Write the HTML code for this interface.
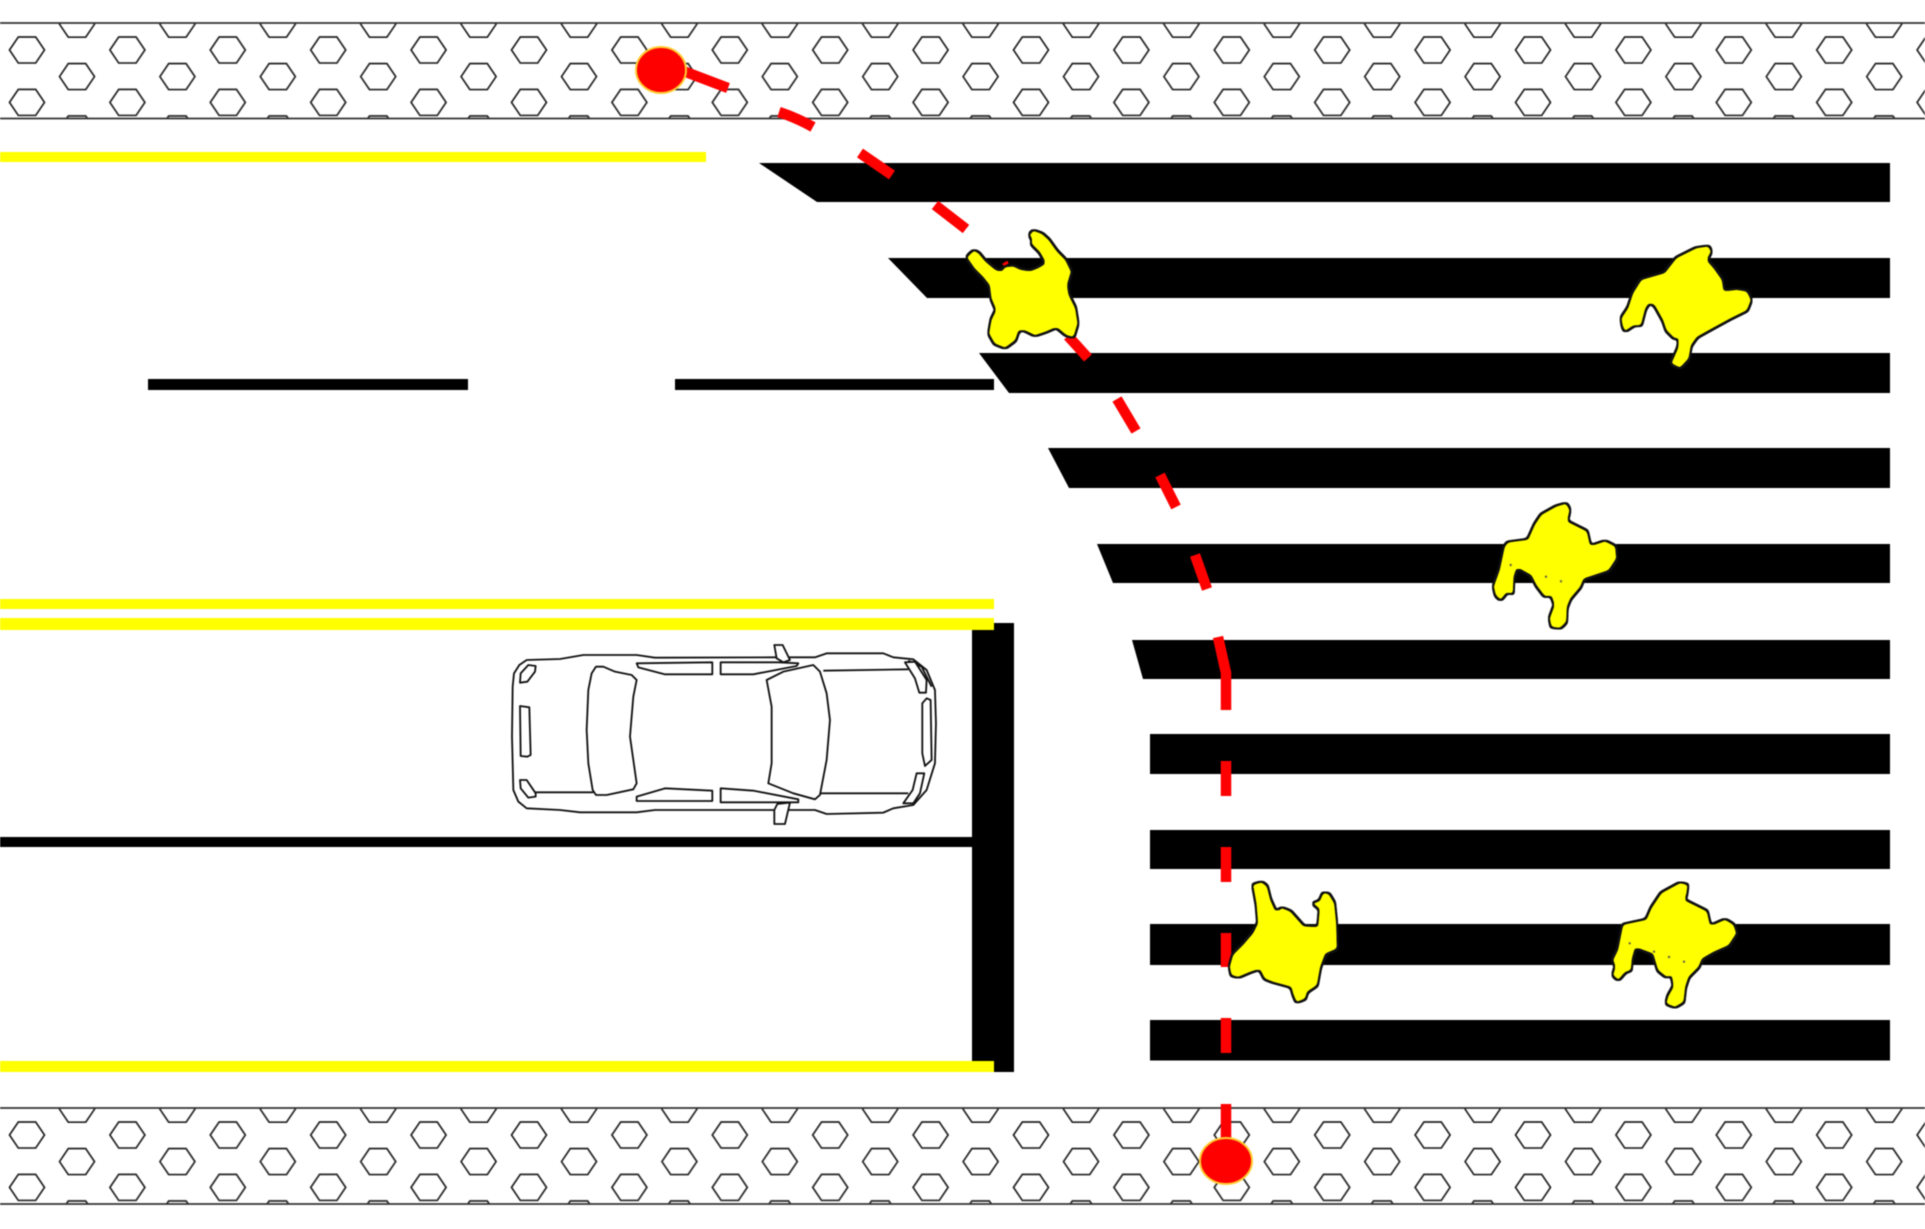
<!DOCTYPE html>
<html><head><meta charset="utf-8"><title>Crosswalk diagram</title>
<style>html,body{margin:0;padding:0;background:#fff}svg{display:block;filter:blur(.4px)}</style></head>
<body>
<svg xmlns="http://www.w3.org/2000/svg" width="1925" height="1229" viewBox="0 0 1925 1229">
<defs>
<g id="hex"><polygon points="-17.5,0 -8.7,-13 8.7,-13 17.5,0 8.7,13 -8.7,13" fill="none" stroke="#222" stroke-width="1.7"/></g>
<pattern id="pt" patternUnits="userSpaceOnUse" width="100.4" height="52.4" patternTransform="translate(0 36.5)">
<use href="#hex" x="27" y="13.5"/><use href="#hex" x="27" y="65.9"/><use href="#hex" x="77" y="40.1"/><use href="#hex" x="77" y="-12.3"/>
</pattern>
<pattern id="pb" patternUnits="userSpaceOnUse" width="100.4" height="52.4" patternTransform="translate(0 1121.5)">
<use href="#hex" x="27" y="13.5"/><use href="#hex" x="27" y="65.9"/><use href="#hex" x="77" y="40.1"/><use href="#hex" x="77" y="-12.3"/>
</pattern>
<filter id="sm" filterUnits="userSpaceOnUse" x="0" y="0" width="1925" height="1229" color-interpolation-filters="sRGB">
<feMorphology in="SourceAlpha" operator="dilate" radius="1" result="f"/>
<feGaussianBlur in="f" stdDeviation="1.6"/>
<feComponentTransfer result="s"><feFuncA type="linear" slope="10" intercept="-4.2"/></feComponentTransfer>
<feMorphology in="s" operator="dilate" radius="1" result="d"/>
<feFlood flood-color="#111"/><feComposite in2="d" operator="in" result="outline"/>
<feMorphology in="s" operator="erode" radius="1" result="e"/>
<feFlood flood-color="#ff0"/><feComposite in2="e" operator="in" result="fill"/>
<feMerge><feMergeNode in="outline"/><feMergeNode in="fill"/></feMerge>
</filter>
</defs>
<rect width="1925" height="1229" fill="#fff"/>

<!-- sidewalks -->
<rect x="0" y="23" width="1925" height="95" fill="url(#pt)"/>
<rect x="0" y="1108" width="1925" height="96" fill="url(#pb)"/>
<g stroke="#333" stroke-width="1.7">
<line x1="0" y1="23" x2="1925" y2="23"/><line x1="0" y1="118.5" x2="1925" y2="118.5"/>
<line x1="0" y1="1108" x2="1925" y2="1108"/><line x1="0" y1="1204" x2="1925" y2="1204"/>
</g>

<!-- zebra stripes -->
<g fill="#000">
<polygon points="759,163 1890,163 1890,202 817,202"/>
<polygon points="888,258 1890,258 1890,298 927,298"/>
<polygon points="979,353 1890,353 1890,393 1009,393"/>
<polygon points="1048,448 1890,448 1890,488 1069,488"/>
<polygon points="1097,544 1890,544 1890,583 1113,583"/>
<polygon points="1132,640 1890,640 1890,679 1143,679"/>
<rect x="1150" y="734" width="740" height="40"/>
<rect x="1150" y="830" width="740" height="39"/>
<rect x="1150" y="924" width="740" height="41"/>
<rect x="1150" y="1020" width="740" height="40.5"/>
<!-- lane markings -->
<rect x="148" y="379" width="320" height="11"/>
<rect x="675" y="379" width="319" height="11"/>
<rect x="972" y="623" width="42" height="449"/>
<rect x="0" y="837" width="972" height="10"/>
</g>

<!-- yellow lines -->
<g fill="#ff0">
<rect x="0" y="152" width="706" height="10"/>
<rect x="0" y="599" width="994" height="10"/>
<rect x="0" y="618" width="994" height="12"/>
<rect x="0" y="1061" width="994" height="11"/>
</g>

<!-- red dashed path -->
<g fill="none" stroke="#f00" stroke-width="10.5">
<line x1="670" y1="66" x2="728" y2="88"/>
<path d="M779 112 Q797 118 813 127"/>
<line x1="860" y1="153" x2="892" y2="175"/>
<line x1="935" y1="205" x2="966" y2="229"/>
<line x1="1003" y1="265" x2="1008" y2="262" stroke-width="3"/>
<line x1="1068" y1="336" x2="1088" y2="358"/>
<line x1="1117" y1="399" x2="1136" y2="431"/>
<line x1="1160" y1="475" x2="1176" y2="507"/>
<line x1="1195" y1="555" x2="1207" y2="589"/>
<path d="M1218 637 L1226 673 L1226 710"/>
<line x1="1226" y1="761" x2="1226" y2="796"/>
<line x1="1226" y1="847" x2="1226" y2="882"/>
<line x1="1226" y1="933" x2="1226" y2="967"/>
<line x1="1226" y1="1018" x2="1226" y2="1053"/>
<line x1="1226" y1="1104" x2="1226" y2="1145"/>
</g>
<ellipse cx="661" cy="70" rx="25" ry="23" fill="#f00" stroke="#fc3" stroke-width="2"/>
<ellipse cx="1226" cy="1161" rx="26" ry="23" fill="#f00" stroke="#fc3" stroke-width="2"/>

<!-- pedestrians -->
<g fill="#000" filter="url(#sm)">
<polygon transform="translate(950 220) scale(.3333)" points="52,112 72,93 85,100 105,125 135,150 155,158 165,142 190,140 210,150 240,155 265,145 290,130 270,95 245,70 250,60 240,45 250,33 275,42 295,60 320,95 345,120 362,155 350,195 355,225 375,265 382,310 370,350 350,345 320,320 285,335 255,345 225,330 205,330 195,360 165,382 135,370 118,340 125,300 140,270 125,235 120,195 100,170 75,145"/>
<polygon transform="translate(1600 230) scale(.3333)" points="65,265 85,235 100,190 125,150 195,130 230,85 290,55 325,50 332,65 318,90 340,115 365,150 370,185 410,180 440,185 452,210 440,240 390,265 335,295 290,320 272,345 265,385 240,412 215,400 235,355 238,315 225,325 200,300 190,270 165,225 148,215 135,235 122,285 100,285 75,302 68,285"/>
<polygon transform="translate(1480 490) scale(.3333)" points="42,290 60,240 75,170 85,158 145,150 165,105 185,75 230,50 258,42 268,60 260,95 320,125 330,170 375,155 405,170 408,205 385,240 310,265 300,290 270,325 260,350 258,395 240,413 215,410 210,385 225,345 215,315 195,318 170,285 155,255 110,230 100,260 98,310 80,305 62,328 48,315"/>
<polygon transform="translate(1210 870) scale(.3333)" points="60,290 70,255 100,225 130,190 145,160 140,100 130,45 155,38 170,50 180,90 198,130 215,115 240,125 280,170 325,172 330,115 310,100 330,95 340,70 355,72 372,100 378,160 380,235 345,250 330,290 320,345 290,365 285,385 260,395 250,370 245,350 190,335 165,325 150,295 120,305 85,320 65,315"/>
<polygon transform="translate(1600 870) scale(.3333)" points="40,270 55,240 70,165 140,150 155,115 185,70 240,40 262,45 258,75 250,90 320,125 330,170 375,150 400,165 408,190 385,225 340,245 305,265 295,290 265,320 255,350 250,395 225,410 200,400 205,380 222,350 215,310 200,320 175,300 160,250 105,230 95,265 92,300 75,305 55,328 40,315 48,290"/>
</g>
<g fill="#664">
<circle cx="1510.7" cy="565" r="1.2"/><circle cx="1546" cy="576.7" r="1.2"/><circle cx="1561" cy="581.3" r="1.2"/>
<circle cx="1629.7" cy="943.3" r="1.2"/><circle cx="1654" cy="951.7" r="1.2"/><circle cx="1669" cy="957" r="1.2"/><circle cx="1684" cy="961.7" r="1.2"/>
</g>

<!-- car -->
<g transform="translate(490 630) scale(.3333)" fill="#fff" stroke="#111" stroke-width="5.5" stroke-linejoin="round">
<polygon points="68,170 72,130 88,105 110,90 210,87 280,75 440,75 495,83 850,82 975,82 1010,70 1180,70 1210,82 1270,88 1310,120 1335,180 1338,280 1335,400 1310,480 1270,525 1210,535 1180,548 1010,552 975,540 495,540 440,547 270,547 210,540 110,535 85,515 70,480 66,320"/>
<g fill="none">
<line x1="135" y1="487" x2="310" y2="487"/>
<line x1="1000" y1="122" x2="1255" y2="118"/>
<line x1="990" y1="490" x2="1255" y2="490"/>
<polyline points="1255,92 1295,110 1325,170"/>
</g>
<polygon points="318,110 340,110 375,125 425,135 440,150 430,200 420,320 440,460 430,478 350,495 318,495 308,480 295,400 290,300 295,180 305,130"/>
<polygon points="853,45 878,45 900,90 880,97 860,85"/>
<polygon points="862,522 900,518 885,582 853,582 853,540"/>
<polygon points="440,100 667,97 667,133 525,133 445,112"/>
<polygon points="692,97 865,97 925,100 920,108 790,133 692,133"/>
<polygon points="440,500 525,475 667,482 667,513 440,513"/>
<polygon points="692,475 790,482 925,508 925,517 692,517"/>
<polygon points="830,150 880,125 970,105 990,125 1010,190 1020,270 1010,390 990,495 975,508 910,490 835,460 845,400 845,230"/>
<polygon points="115,105 137,108 135,125 112,155 90,158 92,130"/>
<polygon points="90,228 118,232 122,375 112,380 92,378"/>
<polygon points="90,450 110,450 137,490 137,500 115,503 92,475"/>
<polygon points="1245,97 1275,95 1310,150 1308,188 1288,188 1275,145"/>
<polygon points="1310,205 1322,210 1325,390 1305,408 1297,370 1297,220"/>
<polygon points="1280,430 1303,430 1290,490 1270,520 1240,520 1268,480"/>
</g>
</svg>
</body></html>
